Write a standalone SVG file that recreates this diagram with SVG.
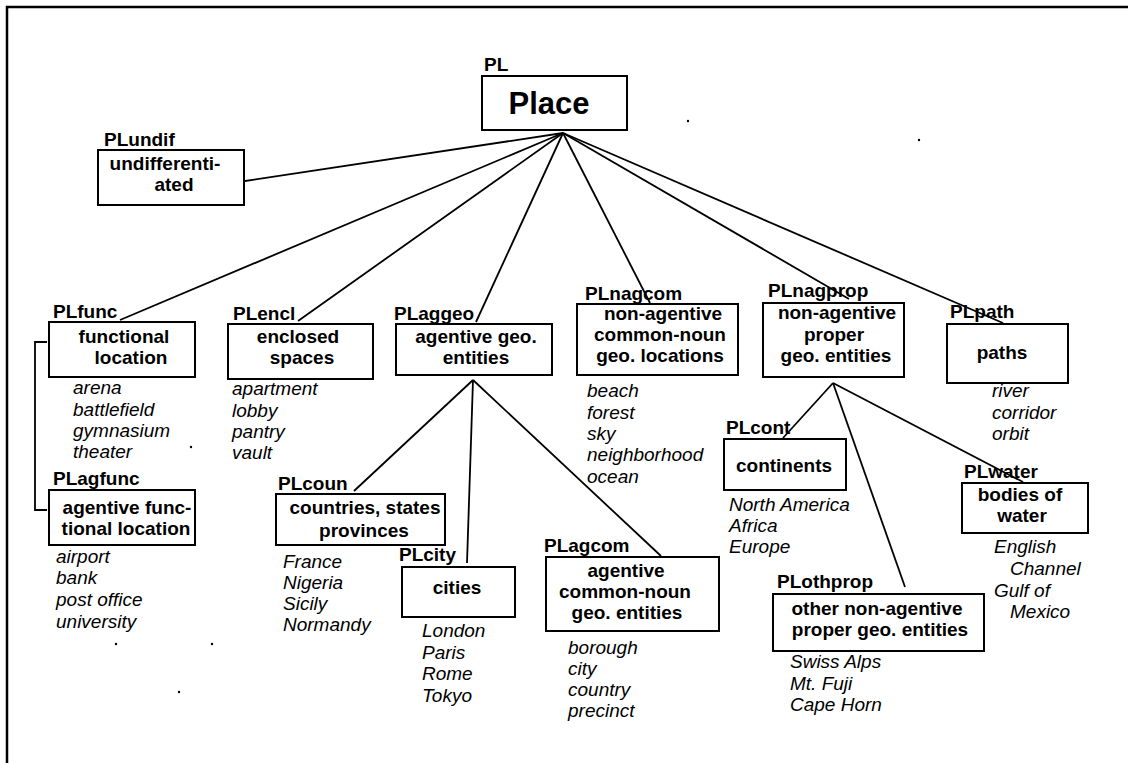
<svg xmlns="http://www.w3.org/2000/svg" width="1128" height="763" viewBox="0 0 1128 763">
  <style>
    .box { fill: #fff; stroke: #000; stroke-width: 2; }
    .lbl { font-family: "Liberation Sans", Arial, sans-serif; font-weight: bold; font-size: 19px; fill: #000; }
    .bt { font-family: "Liberation Sans", Arial, sans-serif; font-weight: bold; font-size: 19px; fill: #000; text-anchor: middle; }
    .it { font-family: "Liberation Sans", Arial, sans-serif; font-style: italic; font-size: 19px; fill: #000; }
    .conn line, .conn polyline { stroke: #000; stroke-width: 1.8; fill: none; }
  </style>
  <rect width="1128" height="763" fill="#fff"/>
  <!-- frame -->
  <path d="M7 763 V7 H1128" fill="none" stroke="#000" stroke-width="2.5"/>

  <!-- connectors -->
  <g id="connectors" class="conn">
    <line x1="563" y1="133" x2="245" y2="181"/>
    <line x1="563" y1="133" x2="120" y2="320"/>
    <line x1="563" y1="133" x2="298" y2="321"/>
    <line x1="563" y1="133" x2="476" y2="322"/>
    <line x1="563" y1="133" x2="650" y2="303"/>
    <line x1="563" y1="133" x2="849" y2="299"/>
    <line x1="563" y1="133" x2="1003" y2="323"/>
    <line x1="473" y1="380" x2="354" y2="491"/>
    <line x1="473" y1="380" x2="467" y2="563"/>
    <line x1="473" y1="380" x2="661" y2="556"/>
    <line x1="833" y1="383" x2="783" y2="438"/>
    <line x1="833" y1="383" x2="905" y2="587"/>
    <line x1="833" y1="383" x2="1023" y2="482"/>
    <!-- bracket linking functional and agentive functional location -->
    <polyline points="47,342 35,342 35,510 47,510"/>
  </g>

  <!-- stray marks -->
  <g id="marks" fill="#000">
    <circle cx="688" cy="121" r="1.2"/>
    <circle cx="919" cy="140" r="1.2"/>
    <circle cx="191" cy="447" r="1.2"/>
    <circle cx="116" cy="644" r="1.2"/>
    <circle cx="212" cy="644" r="1.2"/>
    <circle cx="179" cy="692" r="1.2"/>
  </g>

  <g id="PL">
    <text class="lbl" x="484" y="71">PL</text>
    <rect class="box" x="482" y="76" width="145" height="54"/>
    <text class="bt" x="549" y="114" style="font-size:31px">Place</text>
  </g>

  <g id="PLundif">
    <text class="lbl" x="104" y="146">PLundif</text>
    <rect class="box" x="98" y="150" width="146" height="55"/>
    <text class="bt" x="165" y="170">undifferenti-</text>
    <text class="bt" x="174" y="191">ated</text>
  </g>

  <g id="PLfunc">
    <text class="lbl" x="53" y="318">PLfunc</text>
    <rect class="box" x="49" y="322" width="146" height="55"/>
    <text class="bt" x="124" y="343">functional</text>
    <text class="bt" x="131" y="364">location</text>
    <text class="it" x="73" y="394">arena</text>
    <text class="it" x="73" y="416">battlefield</text>
    <text class="it" x="73" y="437">gymnasium</text>
    <text class="it" x="73" y="458">theater</text>
  </g>

  <g id="PLagfunc">
    <text class="lbl" x="53" y="485">PLagfunc</text>
    <rect class="box" x="49" y="490" width="146" height="55"/>
    <text class="bt" x="127" y="514">agentive func-</text>
    <text class="bt" x="126" y="535">tional location</text>
    <text class="it" x="56" y="563">airport</text>
    <text class="it" x="56" y="584">bank</text>
    <text class="it" x="56" y="606">post office</text>
    <text class="it" x="56" y="628">university</text>
  </g>

  <g id="PLencl">
    <text class="lbl" x="233" y="320">PLencl</text>
    <rect class="box" x="228" y="324" width="145" height="55"/>
    <text class="bt" x="298" y="343">enclosed</text>
    <text class="bt" x="302" y="364">spaces</text>
    <text class="it" x="232" y="395">apartment</text>
    <text class="it" x="232" y="417">lobby</text>
    <text class="it" x="232" y="438">pantry</text>
    <text class="it" x="232" y="459">vault</text>
  </g>

  <g id="PLaggeo">
    <text class="lbl" x="394" y="320">PLaggeo</text>
    <rect class="box" x="396" y="324" width="156" height="51"/>
    <text class="bt" x="476" y="343">agentive geo.</text>
    <text class="bt" x="476" y="364">entities</text>
  </g>

  <g id="PLcoun">
    <text class="lbl" x="278" y="490">PLcoun</text>
    <rect class="box" x="276" y="494" width="169" height="51"/>
    <text class="bt" x="365" y="514">countries, states</text>
    <text class="bt" x="364" y="537">provinces</text>
    <text class="it" x="283" y="568">France</text>
    <text class="it" x="283" y="589">Nigeria</text>
    <text class="it" x="283" y="610">Sicily</text>
    <text class="it" x="283" y="631">Normandy</text>
  </g>

  <g id="PLcity">
    <text class="lbl" x="399" y="561">PLcity</text>
    <rect class="box" x="402" y="567" width="113" height="50"/>
    <text class="bt" x="457" y="594">cities</text>
    <text class="it" x="422" y="637">London</text>
    <text class="it" x="422" y="659">Paris</text>
    <text class="it" x="422" y="680">Rome</text>
    <text class="it" x="422" y="702">Tokyo</text>
  </g>

  <g id="PLagcom">
    <text class="lbl" x="544" y="552">PLagcom</text>
    <rect class="box" x="546" y="557" width="173" height="74"/>
    <text class="bt" x="626" y="577">agentive</text>
    <text class="bt" x="625" y="598">common-noun</text>
    <text class="bt" x="627" y="619">geo. entities</text>
    <text class="it" x="568" y="654">borough</text>
    <text class="it" x="568" y="675">city</text>
    <text class="it" x="568" y="696">country</text>
    <text class="it" x="568" y="717">precinct</text>
  </g>

  <g id="PLnagcom">
    <text class="lbl" x="585" y="300">PLnagcom</text>
    <rect class="box" x="577" y="304" width="161" height="71"/>
    <text class="bt" x="663" y="320">non-agentive</text>
    <text class="bt" x="660" y="341">common-noun</text>
    <text class="bt" x="660" y="362">geo. locations</text>
    <text class="it" x="587" y="397">beach</text>
    <text class="it" x="587" y="419">forest</text>
    <text class="it" x="587" y="440">sky</text>
    <text class="it" x="587" y="461">neighborhood</text>
    <text class="it" x="587" y="483">ocean</text>
  </g>

  <g id="PLnagprop">
    <text class="lbl" x="768" y="297">PLnagprop</text>
    <rect class="box" x="763" y="303" width="141" height="74"/>
    <text class="bt" x="837" y="319">non-agentive</text>
    <text class="bt" x="834" y="341">proper</text>
    <text class="bt" x="836" y="362">geo. entities</text>
  </g>

  <g id="PLpath">
    <text class="lbl" x="950" y="318">PLpath</text>
    <rect class="box" x="947" y="324" width="121" height="59"/>
    <text class="bt" x="1002" y="359">paths</text>
    <text class="it" x="992" y="397">river</text>
    <text class="it" x="992" y="419">corridor</text>
    <text class="it" x="992" y="440">orbit</text>
  </g>

  <g id="PLcont">
    <text class="lbl" x="726" y="434">PLcont</text>
    <rect class="box" x="724" y="439" width="122" height="51"/>
    <text class="bt" x="784" y="472">continents</text>
    <text class="it" x="729" y="511">North America</text>
    <text class="it" x="729" y="532">Africa</text>
    <text class="it" x="729" y="553">Europe</text>
  </g>

  <g id="PLwater">
    <text class="lbl" x="964" y="478">PLwater</text>
    <rect class="box" x="962" y="483" width="126" height="50"/>
    <text class="bt" x="1020" y="501">bodies of</text>
    <text class="bt" x="1022" y="522">water</text>
    <text class="it" x="994" y="553">English</text>
    <text class="it" x="1010" y="575">Channel</text>
    <text class="it" x="994" y="597">Gulf of</text>
    <text class="it" x="1010" y="618">Mexico</text>
  </g>

  <g id="PLothprop">
    <text class="lbl" x="777" y="588">PLothprop</text>
    <rect class="box" x="773" y="594" width="211" height="57"/>
    <text class="bt" x="877" y="615">other non-agentive</text>
    <text class="bt" x="880" y="636">proper geo. entities</text>
    <text class="it" x="790" y="668">Swiss Alps</text>
    <text class="it" x="790" y="690">Mt. Fuji</text>
    <text class="it" x="790" y="711">Cape Horn</text>
  </g>
</svg>
